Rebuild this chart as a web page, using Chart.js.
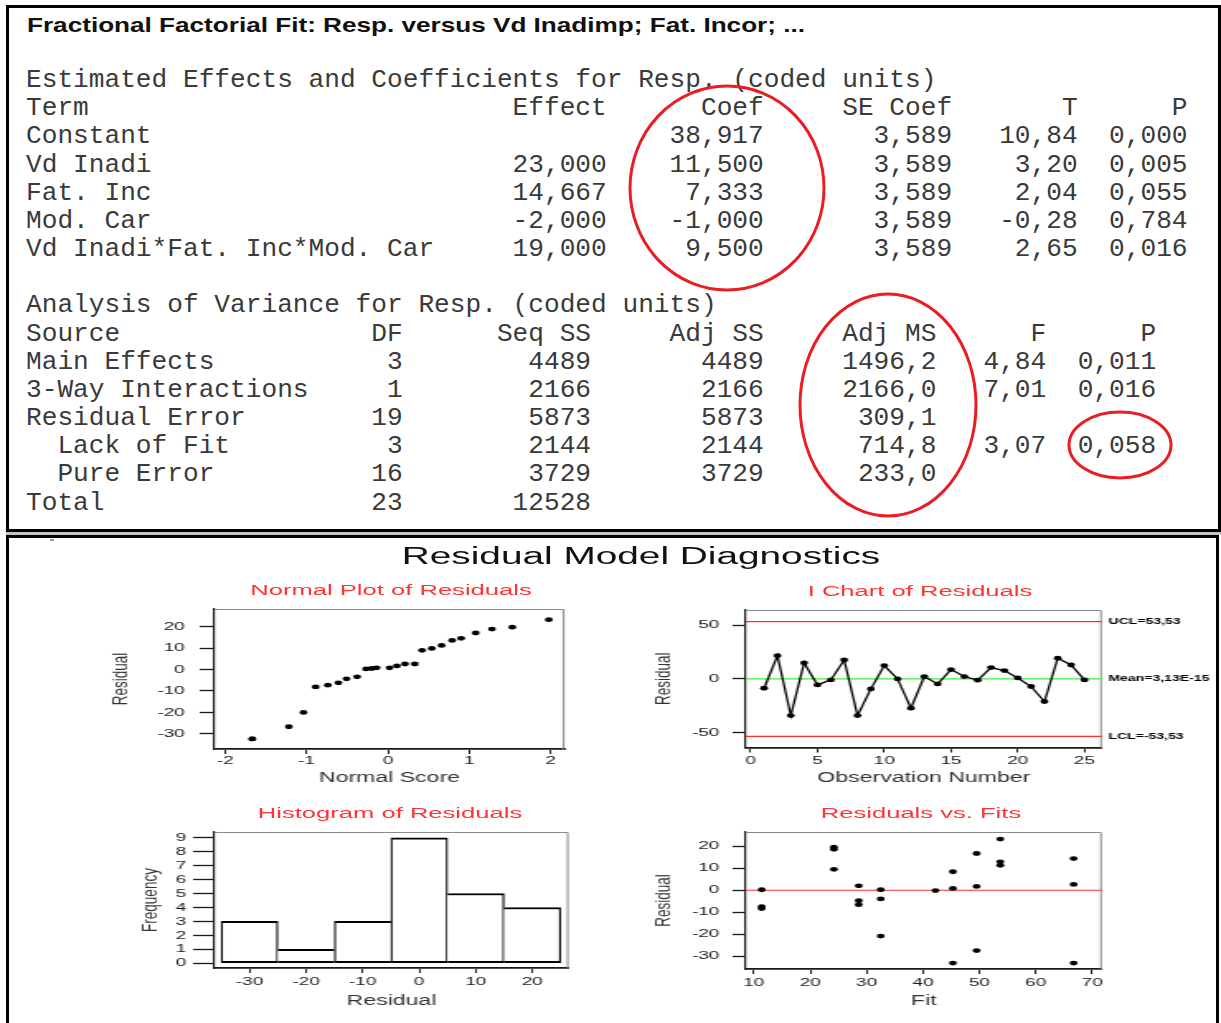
<!DOCTYPE html>
<html>
<head>
<meta charset="utf-8">
<title>Fractional Factorial Fit – Residual Model Diagnostics</title>
<script src="https://cdn.jsdelivr.net/npm/chart.js@4.4.1/dist/chart.umd.min.js"></script>
<style>
  html, body { margin: 0; padding: 0; background: #fff; }
  body { position: relative; width: 1221px; height: 1023px; overflow: hidden; font-family: "Liberation Sans", Arial, sans-serif; }
  .box { position: absolute; box-sizing: border-box; border: 3px solid #000; }
  #sessionBox { left: 6px; top: 5px; width: 1215px; height: 527px; }
  #gap { position: absolute; left: 6px; top: 532px; width: 1215px; height: 3px; background: #c4c4c4; }
  #graphBox { left: 6px; top: 535px; width: 1213px; height: 500px; }
  #speck { position: absolute; left: 50px; top: 539px; width: 4px; height: 2px; background: #9a9a9a; }
  #fitTitle { position: absolute; left: 27px; top: 12px; font-weight: bold; font-size: 20.5px; line-height: 26px; color: #111; white-space: nowrap; transform-origin: 0 0; }
  #session { position: absolute; left: 26px; top: 66px; margin: 0; font-family: "Liberation Mono", "Courier New", monospace; font-size: 26.17px; line-height: 28.17px; color: #3a3a3a; }
  #rings { position: absolute; left: 0; top: 0; }
  #diag { position: absolute; left: 0; top: 0; height: 1023px; transform-origin: 0 0; }
  #diag canvas { position: absolute; }
  .plotTitle { position: absolute; transform: translateX(-50%); white-space: nowrap; color: #ff3434; font-size: 15.5px; line-height: 18px; }
  #diagTitle { position: absolute; transform: translateX(-50%); white-space: nowrap; color: #111; font-size: 23.5px; line-height: 28px; }
</style>
</head>
<body>
<div class="box" id="sessionBox"></div>
<div id="gap"></div>
<div class="box" id="graphBox"></div>
<div id="speck"></div>
<div id="fitTitle">Fractional Factorial Fit: Resp. versus Vd Inadimp; Fat. Incor; ...</div>
<pre id="session"></pre>
<svg id="rings" width="1221" height="1023">
  <g fill="none" stroke="#ea1c24" stroke-width="3">
    <ellipse cx="727" cy="188" rx="97" ry="102"/>
    <ellipse cx="888" cy="405" rx="88" ry="111"/>
    <ellipse cx="1120" cy="445" rx="51" ry="33"/>
  </g>
</svg>
<div id="diag"></div>

<script>
// ---------- Session window: effects / coefficients table ----------
const coefTerms  = ['Constant', 'Vd Inadi', 'Fat. Inc', 'Mod. Car', 'Vd Inadi*Fat. Inc*Mod. Car'];
const coefEffect = ['', '23,000', '14,667', '-2,000', '19,000'];
const coefCoef   = ['38,917', '11,500', '7,333', '-1,000', '9,500'];
const coefSE     = ['3,589', '3,589', '3,589', '3,589', '3,589'];
const coefT      = ['10,84', '3,20', '2,04', '-0,28', '2,65'];
const coefP      = ['0,000', '0,005', '0,055', '0,784', '0,016'];

// ---------- Session window: analysis of variance ----------
const anovaSource = ['Main Effects', '3-Way Interactions', 'Residual Error', '  Lack of Fit', '  Pure Error', 'Total'];
const anovaDF     = ['3', '1', '19', '3', '16', '23'];
const anovaSeqSS  = ['4489', '2166', '5873', '2144', '3729', '12528'];
const anovaAdjSS  = ['4489', '2166', '5873', '2144', '3729', ''];
const anovaAdjMS  = ['1496,2', '2166,0', '309,1', '714,8', '233,0', ''];
const anovaF      = ['4,84', '7,01', '', '3,07', '', ''];
const anovaP      = ['0,011', '0,016', '', '0,058', '', ''];

// ---------- Normal plot of residuals ----------
const normalScores    = [-1.67, -1.67, -1.22, -1.04, -0.89, -0.74, -0.61, -0.51, -0.38, -0.27, -0.20, -0.14, 0.02,
                         0.11, 0.21, 0.33, 0.42, 0.54, 0.66, 0.79, 0.90, 1.08, 1.28, 1.53, 1.98];
const normalResiduals = [-32.4, -32.4, -26.7, -20.0, -8.1, -7.3, -6.2, -4.3, -3.4, 0.3, 0.5, 0.8, 0.8,
                         1.7, 2.6, 2.6, 9.0, 9.9, 11.3, 13.6, 14.6, 17.1, 18.9, 19.8, 23.3];

// ---------- I chart of residuals ----------
const observationNumbers = [1, 2, 3, 4, 5, 6, 7, 8, 9, 10, 11, 12, 13, 14, 15, 16, 17, 18, 19, 20, 21, 22, 23, 24, 25];
const iChartResiduals    = [-8.7, 21.7, -34.2, 14.9, -5.6, -0.9, 17.7, -34.2, -9.3, 12.4, 0.0, -27.3, 2.2,
                            -4.7, 8.7, 2.2, -1.2, 10.6, 7.8, 0.9, -7.1, -21.1, 19.3, 13.0, -0.9];
const iChartUCL  = 53.53;
const iChartMean = 3.13e-15;
const iChartLCL  = -53.53;

// ---------- Histogram of residuals ----------
const binCenters = [-30, -20, -10, 0, 10, 20];
const binCounts  = [3, 1, 3, 9, 5, 4];

// ---------- Residuals vs. fits ----------
const fitValues    = [11.4, 11.4, 11.4, 24.2, 24.2, 24.2, 28.6, 28.6, 28.6, 32.5, 32.5, 32.5, 42.2,
                      45.3, 45.3, 45.3, 49.5, 49.5, 49.5, 53.7, 53.7, 53.7, 66.7, 66.7, 66.7];
const fitResiduals = [0.2, -7.5, -8.4, 19.6, 18.6, 9.5, 2.0, -4.8, -6.6, 0.2, -4.0, -20.9, -0.2,
                      8.4, 0.8, -33.2, 16.7, 1.7, -27.5, 23.3, 12.9, 11.3, 14.4, 2.6, -33.2];

// ----- fixed-column session listing -----
function row(cells, ends) {
  let line = cells[0];
  for (let i = 1; i < cells.length; i++) {
    const c = cells[i];
    if (!c) continue;
    const pad = ends[i - 1] - line.length - c.length;
    line += ' '.repeat(Math.max(pad, 1)) + c;
  }
  return line;
}
const coefEnds  = [37, 47, 59, 67, 74];
const anovaEnds = [24, 36, 47, 58, 65, 72];
const lines = [];
lines.push('Estimated Effects and Coefficients for Resp. (coded units)');
lines.push(row(['Term', 'Effect', 'Coef', 'SE Coef', 'T', 'P'], coefEnds));
coefTerms.forEach((t, i) => lines.push(row([t, coefEffect[i], coefCoef[i], coefSE[i], coefT[i], coefP[i]], coefEnds)));
lines.push('');
lines.push('Analysis of Variance for Resp. (coded units)');
lines.push(row(['Source', 'DF', 'Seq SS', 'Adj SS', 'Adj MS', 'F', 'P'], anovaEnds));
anovaSource.forEach((s, i) => lines.push(row([s, anovaDF[i], anovaSeqSS[i], anovaAdjSS[i], anovaAdjMS[i], anovaF[i], anovaP[i]], anovaEnds)));
document.getElementById('session').textContent = lines.join('\n');

// the bold header is laid out to the session window width
function fitTitle() {
  const el = document.getElementById('fitTitle');
  el.style.transform = 'none';
  const w = el.getBoundingClientRect().width;
  el.style.transform = 'scaleX(' + (778 / w) + ')';
}
fitTitle();
if (document.fonts && document.fonts.ready) document.fonts.ready.then(fitTitle);

// ---------- graph window (drawn narrow, then widened like the exported graph) ----------
const S = 1.65;
const diag = document.getElementById('diag');
diag.style.width = (1221 / S) + 'px';
diag.style.transform = 'scaleX(' + S + ')';

const INK = '#1a1a1a';
const SANS = '"Liberation Sans", Arial, sans-serif';

function addText(cls, text, cx, cy, id) {
  const d = document.createElement('div');
  d.className = cls;
  if (id) d.id = id;
  d.textContent = text;
  d.style.left = (cx / S) + 'px';
  d.style.top = cy + 'px';
  diag.appendChild(d);
}
addText('', 'Residual Model Diagnostics', 641, 542, 'diagTitle');
addText('plotTitle', 'Normal Plot of Residuals', 391, 581);
addText('plotTitle', 'I Chart of Residuals', 920, 582);
addText('plotTitle', 'Histogram of Residuals', 390, 804);
addText('plotTitle', 'Residuals vs. Fits', 921, 804);

const dec = v => v.toFixed(2).replace('.', ',');
const sci = v => v.toExponential(2).replace('.', ',').replace('e', 'E');

// frame, reference lines and their labels
const plotFrame = {
  id: 'plotFrame',
  beforeDatasetsDraw(chart, args, opts) {
    const { ctx, chartArea: a, scales } = chart;
    ctx.save();
    ctx.strokeStyle = '#8a8a8a';
    ctx.lineWidth = 1;
    ctx.beginPath();
    ctx.moveTo(a.left, a.top + 0.5);
    ctx.lineTo(a.right - 0.5, a.top + 0.5);
    ctx.lineTo(a.right - 0.5, a.bottom);
    ctx.stroke();
    (opts.lines || []).forEach(ln => {
      const py = scales.y.getPixelForValue(ln.value);
      ctx.strokeStyle = ln.color;
      ctx.lineWidth = ln.width;
      ctx.beginPath();
      ctx.moveTo(a.left, py);
      ctx.lineTo(a.right, py);
      ctx.stroke();
      if (ln.label) {
        ctx.fillStyle = '#000';
        ctx.font = 'bold 8.5px ' + SANS;
        ctx.textAlign = 'left';
        ctx.textBaseline = 'middle';
        ctx.fillText(ln.label, a.right + 4, py);
      }
    });
    ctx.restore();
  }
};

function linearAxis(o, vertical) {
  return {
    type: 'linear',
    position: vertical ? 'left' : 'bottom',
    offset: false,
    min: o.min,
    max: o.max,
    ticks: {
      stepSize: o.step, autoSkip: false, maxRotation: 0,
      padding: o.pad, color: INK, font: { family: SANS, size: 11.5 }
    },
    grid: {
      display: true, drawOnChartArea: false, drawTicks: true, offset: false,
      tickLength: o.tick, tickWidth: vertical ? 1.3 : 1, tickColor: INK, color: INK
    },
    border: { display: true, color: INK, width: vertical ? 1.2 : 1.8 },
    title: {
      display: true, text: o.title, color: '#333',
      font: { family: SANS, size: o.titleSize },
      padding: vertical ? { top: o.titlePad, bottom: 0 } : { top: 0, bottom: o.titlePad }
    },
    // ticks on the round steps only; the axis limits stay where they were set
    afterBuildTicks(scale) {
      const t = [];
      for (let k = Math.ceil(o.min / o.step - 1e-9); k * o.step <= o.max + 1e-9; k++) {
        t.push({ value: Math.round(k * o.step * 1e6) / 1e6 });
      }
      scale.ticks = t;
      scale.min = o.min;
      scale.max = o.max;
    },
    afterFit(scale) {
      if (vertical) { scale.width = o.size; scale.paddingTop = 0; scale.paddingBottom = 0; }
      else { scale.height = o.size; scale.paddingLeft = 0; scale.paddingRight = 0; }
    }
  };
}

function plotPanel(p) {
  const a = p.area;
  const ax0 = a.x0 / S, ax1 = a.x1 / S;
  const left = ax0 - p.y.size;
  const top = a.y0 - p.padTop;
  const width = Math.ceil(ax1 - left + p.padRight);
  const height = Math.ceil(a.y1 - top + p.x.size);
  const cv = document.createElement('canvas');
  cv.width = width;
  cv.height = height;
  cv.style.left = left + 'px';
  cv.style.top = top + 'px';
  cv.style.width = width + 'px';
  cv.style.height = height + 'px';
  diag.appendChild(cv);
  return new Chart(cv, {
    type: p.type,
    data: { datasets: p.datasets },
    options: {
      responsive: false,
      animation: false,
      devicePixelRatio: 1,
      layout: { padding: { left: 0, top: p.padTop, right: width - (ax1 - left), bottom: height - (a.y1 - top) - p.x.size } },
      plugins: { legend: { display: false }, tooltip: { enabled: false }, title: { display: false }, plotFrame: p.frame || {} },
      scales: { x: linearAxis(p.x, false), y: linearAxis(p.y, true) }
    },
    plugins: [plotFrame]
  });
}

const dot = { pointRadius: 2.4, pointHoverRadius: 2.4, pointBackgroundColor: '#000', pointBorderWidth: 0, pointBorderColor: '#000' };

// Normal plot of residuals
plotPanel({
  type: 'scatter',
  area: { x0: 215, x1: 565, y0: 609, y1: 749 }, padTop: 12, padRight: 8,
  x: { min: -2.135, max: 2.173, step: 1, size: 42, tick: 5, pad: 0, title: 'Normal Score', titleSize: 14, titlePad: 4.6 },
  y: { min: -37.1, max: 28.3, step: 10, size: 70, tick: 9, pad: 9, title: 'Residual', titleSize: 13.5, titlePad: 5 },
  datasets: [Object.assign({ data: normalScores.map((v, i) => ({ x: v, y: normalResiduals[i] })), showLine: false }, dot)]
});

// I chart of residuals
plotPanel({
  type: 'line',
  area: { x0: 745, x1: 1101, y0: 609.5, y1: 747 }, padTop: 12, padRight: 66,
  x: { min: -0.37, max: 26.3, step: 5, size: 44, tick: 5, pad: 1, title: 'Observation Number', titleSize: 14, titlePad: 4.6 },
  y: { min: -64, max: 64.3, step: 50, size: 70, tick: 8, pad: 8, title: 'Residual', titleSize: 13.5, titlePad: 11.8 },
  frame: {
    lines: [
      { value: iChartUCL, color: '#ff2e2e', width: 1.3, label: 'UCL=' + dec(iChartUCL) },
      { value: iChartMean, color: '#3df03d', width: 1.3, label: 'Mean=' + sci(iChartMean) },
      { value: iChartLCL, color: '#ff2e2e', width: 1.3, label: 'LCL=' + dec(iChartLCL) }
    ]
  },
  datasets: [Object.assign({
    data: observationNumbers.map((n, i) => ({ x: n, y: iChartResiduals[i] })),
    borderColor: '#000', borderWidth: 1.3, tension: 0, fill: false
  }, dot)]
});

// Histogram of residuals
plotPanel({
  type: 'bar',
  area: { x0: 215, x1: 569, y0: 832, y1: 968 }, padTop: 12, padRight: 8,
  x: { min: -36.2, max: 26.4, step: 10, size: 45, tick: 5, pad: 2, title: 'Residual', titleSize: 14, titlePad: 3.6 },
  y: { min: -0.34, max: 9.41, step: 1, size: 70, tick: 13, pad: 4, title: 'Frequency', titleSize: 13.5, titlePad: 23 },
  datasets: [{
    data: binCenters.map((c, i) => ({ x: c, y: binCounts[i] })),
    backgroundColor: '#fff',
    borderColor: '#000',
    borderSkipped: false,
    barPercentage: 1,
    categoryPercentage: 1,
    // each shared edge is drawn once, by the taller of the two neighbouring bars
    borderWidth: ctx => {
      const i = ctx.dataIndex, h = binCounts[i];
      const prev = binCounts[i - 1], next = binCounts[i + 1];
      return {
        top: 2, bottom: 2,
        left: (prev === undefined || h >= prev) ? 1.25 : 0,
        right: (next === undefined || h > next) ? 1.25 : 0
      };
    }
  }]
});

// Residuals vs. fits
plotPanel({
  type: 'scatter',
  area: { x0: 745, x1: 1101, y0: 832, y1: 969 }, padTop: 12, padRight: 10,
  x: { min: 8.58, max: 71.7, step: 10, size: 44, tick: 5, pad: 2, title: 'Fit', titleSize: 14, titlePad: 3.6 },
  y: { min: -35.9, max: 26.5, step: 10, size: 70, tick: 8, pad: 8, title: 'Residual', titleSize: 13.5, titlePad: 11.8 },
  frame: { lines: [{ value: 0, color: '#ff2e2e', width: 1.1 }] },
  datasets: [Object.assign({ data: fitValues.map((v, i) => ({ x: v, y: fitResiduals[i] })), showLine: false }, dot)]
});
</script>
</body>
</html>
